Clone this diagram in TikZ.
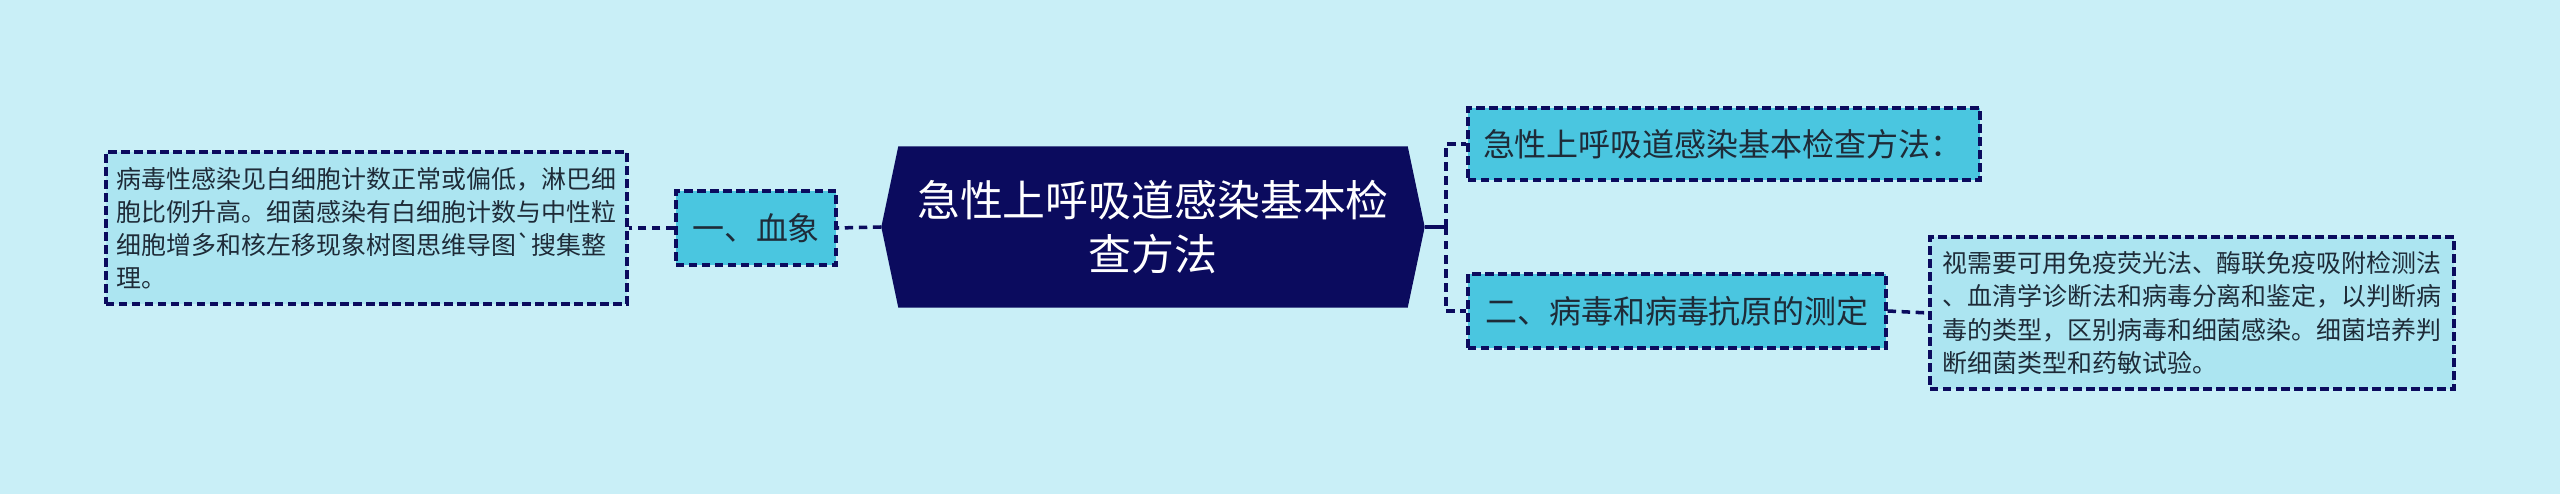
\documentclass[tikz,border=0pt]{standalone}
\usepackage{fontspec}
\setmainfont{Noto Sans CJK SC}
\usetikzlibrary{backgrounds}
\definecolor{bgcyan}{HTML}{C9EFF7}
\definecolor{navy}{HTML}{0B0B5E}
\definecolor{midcyan}{HTML}{4AC6E0}
\definecolor{palecyan}{HTML}{ACE5F1}
\definecolor{inktext}{HTML}{1E2B38}

\begin{document}
\begin{tikzpicture}[
    topicbox/.style={rectangle, draw=navy, line width=0.9pt, dash pattern=on 2.4pt off 1.3pt, fill=midcyan, text=inktext, font=\fontsize{9.1pt}{11pt}\selectfont, minimum height=0.74cm, inner sep=0pt},
    notebox/.style={rectangle, draw=navy, line width=0.9pt, dash pattern=on 2.4pt off 1.3pt, fill=palecyan, text=inktext, font=\fontsize{7.1pt}{9.4pt}\selectfont, align=left, minimum height=1.52cm, inner sep=0pt},
    hubnode/.style={text=white, font=\fontsize{12.2pt}{15.4pt}\selectfont, align=center, minimum width=5.42cm, minimum height=1.6cm, inner sep=0pt},
    link/.style={draw=navy, line width=1pt},
    dlink/.style={link, dash pattern=on 2.4pt off 1.6pt}
]

% Centre: main topic
\node[hubnode] (hub) at (11.53,2.67) {急性上呼吸道感染基本检\\查方法};

% Left branch
\node[topicbox, minimum width=1.60cm] (blood) at (7.56,2.66) {一、血象};
\node[notebox, minimum width=5.21cm] (bloodnote) at (3.665,2.66) {病毒性感染见白细胞计数正常或偏低，淋巴细\\胞比例升高。细菌感染有白细胞计数与中性粒\\细胞增多和核左移现象树图思维导图\textasciigrave 搜集整\\理。};

% Right branches
\node[topicbox, minimum width=5.12cm, minimum height=0.72cm, text width=4.82cm, align=left] (method) at (17.24,3.50) {急性上呼吸道感染基本检查方法：};
\node[topicbox, minimum width=4.18cm] (antigen) at (16.77,1.83) {二、病毒和病毒抗原的测定};
\node[notebox, minimum width=5.24cm] (antigennote) at (21.92,1.81) {视需要可用免疫荧光法、酶联免疫吸附检测法\\、血清学诊断法和病毒分离和鉴定，以判断病\\毒的类型，区别病毒和细菌感染。细菌培养判\\断细菌类型和药敏试验。};

% Background and hexagon
\begin{scope}[on background layer]
\fill[bgcyan] (0,0) rectangle (25.6,4.94);
\fill[navy] (hub.west) -- ([xshift=0.17cm]hub.north west) -- ([xshift=-0.17cm]hub.north east)
    -- (hub.east) -- ([xshift=-0.17cm]hub.south east) -- ([xshift=0.17cm]hub.south west) -- cycle;
\end{scope}

% Connectors
\coordinate (fork) at (14.46,2.67);
\draw[dlink] (hub.west) -- (blood.east);
\draw[dlink] (blood.west) -- (bloodnote.east);
\draw[link] (hub.east) -- (fork);
\draw[dlink] (fork) |- (method.west);
\draw[dlink] (fork) |- (antigen.west);
\draw[dlink] (antigen.east) -- (antigennote.west);

\end{tikzpicture}
\end{document}
